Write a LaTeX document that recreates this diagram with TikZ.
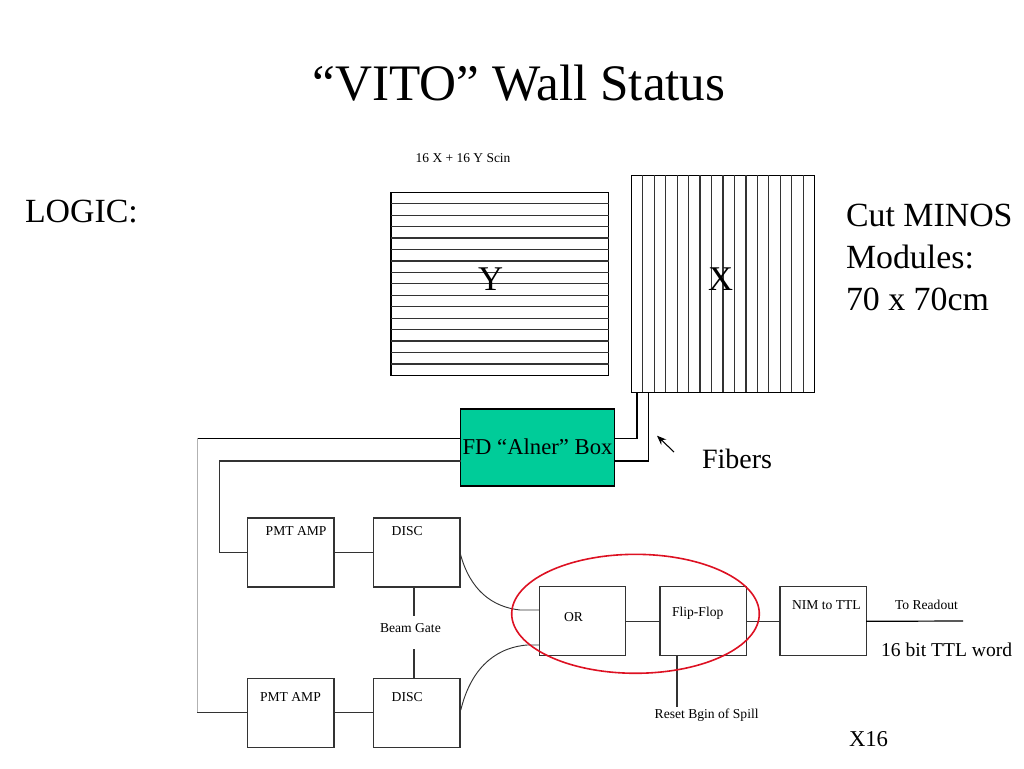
\documentclass[tikz,border=0pt]{standalone}
\usepackage{fontspec}
\setmainfont{Liberation Serif}
\usetikzlibrary{shapes.geometric,arrows.meta}
\definecolor{wire}{HTML}{333333}
\definecolor{alner}{HTML}{00CC99}
\definecolor{ring}{HTML}{DD1122}
\newcommand{\fs}[1]{\fontsize{#1}{#1}\selectfont}
\tikzset{
  wirepath/.style={draw=wire,line width=0.95pt},
  thinpath/.style={draw=wire,line width=0.7pt},
  modbox/.style={draw=wire,line width=0.95pt,minimum width=64.7pt,minimum height=51.8pt,inner sep=0pt,outer sep=0pt},
  txt/.style={anchor=base west,inner sep=0pt,outer sep=0pt,text=black},
  small/.style={txt,font=\fs{10.2}},
  slide/.style={txt,font=\fs{25.4}},
}
\begin{document}
\begin{tikzpicture}[x=0.75pt,y=-0.75pt]
\useasboundingbox (0,0) rectangle (1024,768);
% coordinates of corners and free ends
\coordinate (railA) at (197.3,438.3);
\coordinate (railB) at (219.3,461);
\coordinate (fibA) at (637,438.3);
\coordinate (fibB) at (648.5,461);
\coordinate (gateTop) at (414,616);
\coordinate (gateBot) at (414,649.3);
\coordinate (readoutEnd) at (963,621);
\coordinate (resetEnd) at (677,706.7);
\coordinate (arrowTail) at (674,452);
\coordinate (arrowHead) at (657,435.7);
% scintillator planes
\node[draw=black,line width=0.9pt,minimum width=163.3pt,minimum height=137.25pt,inner sep=0pt,outer sep=0pt] (ybox) at (499.85,283.8) {};
\foreach \i in {1,...,15}{\draw[draw=wire,line width=0.9pt] (391,192.3+11.44*\i) -- (608.7,192.3+11.44*\i);}
\node[draw=black,line width=0.9pt,minimum width=137.55pt,minimum height=162.75pt,inner sep=0pt,outer sep=0pt] (xbox) at (723,283.8) {};
\foreach \i in {1,...,15}{\draw[draw=wire,line width=0.9pt] (631.3+11.46*\i,175.3) -- (631.3+11.46*\i,392.3);}
% boxes
\node[draw=black,fill=alner,line width=0.9pt,minimum width=115.5pt,minimum height=57.75pt,inner sep=0pt,outer sep=0pt] (green) at (537.5,447.5) {};
\node[modbox] (pmtA) at (290.85,552.5) {};
\node[modbox] (discA) at (416.85,552.5) {};
\node[modbox] (pmtB) at (290.85,712.85) {};
\node[modbox] (discB) at (416.85,712.85) {};
\node[modbox] (orbox) at (582.7,621.3) {};
\node[modbox] (flip) at (703,621.3) {};
\node[modbox] (nim) at (823,621.3) {};
% connectors
\draw[draw=black,line width=0.9pt] (green.west |- railA) -- (railA);
\draw[draw=gray!60,line width=0.9pt] (railA) -- (railA |- pmtB.west);
\draw[wirepath] (railA |- pmtB.west) -- (pmtB.west);
\draw[wirepath] (green.west |- railB) -- (railB) |- (pmtA.west);
\draw[draw=black,line width=0.9pt] (green.east |- fibA) -- (fibA) -- (fibA |- xbox.south);
\draw[draw=black,line width=0.9pt] (green.east |- fibB) -- (fibB) -- (fibB |- xbox.south);
\draw[wirepath] (pmtA.east) -- (discA.west);
\draw[wirepath] (pmtB.east) -- (discB.west);
\draw[wirepath] (gateTop |- discA.south) -- (gateTop);
\draw[wirepath] (gateBot) -- (gateBot |- discB.north);
\draw[thinpath] (460.3,553.7) .. controls (470,590) and (492,607) .. (520,610) -- (orbox.west |- 520,610);
\draw[thinpath] (460.8,710) .. controls (470,672) and (492,648) .. (527,645) -- (orbox.west |- 527,645);
\draw[wirepath] (orbox.east) -- (flip.west);
\draw[wirepath] (flip.east) -- (nim.west);
\draw[draw=black,line width=0.9pt] (nim.east) -- (readoutEnd);
\draw[wirepath] (resetEnd |- flip.south) -- (resetEnd);
\draw[draw=black,line width=0.8pt,-{Stealth[length=7pt,width=5.5pt]}] (arrowTail) -- (arrowHead);
% red ellipse
\node[draw=ring,line width=1.2pt,ellipse,minimum width=185.7pt,minimum height=89.2pt,inner sep=0pt,outer sep=0pt] (ringe) at (635.5,613.8) {};
% text
\node[txt,font=\fs{38.4},anchor=base] (title) at (519,100) {“VITO” Wall Status};
\node[slide] (logic) at (25,222) {LOGIC:};
\node[slide] (cut1) at (846,226) {Cut MINOS};
\node[slide] (cut2) at (846,268) {Modules:};
\node[slide] (cut3) at (846,310) {70 x 70cm};
\node[slide,font=\fs{26},anchor=base] (ylab) at (490.7,290) {Y};
\node[slide,font=\fs{26},anchor=base] (xlab) at (720.7,290) {X};
\node[small,font=\fs{10.1}] (scin) at (415.7,162.7) {16 X + 16 Y Scin};
\node[txt,font=\fs{17},anchor=base] (alnerl) at (537.5,454) {FD “Alner” Box};
\node[txt,font=\fs{21}] (fibers) at (702,468) {Fibers};
\node[small] (pa) at (265.7,535) {PMT AMP};
\node[small] (da) at (391.7,535) {DISC};
\node[small] (pb) at (260,701) {PMT AMP};
\node[small] (db) at (391.7,701) {DISC};
\node[small] (beam) at (380,632) {Beam Gate};
\node[small] (orl) at (564,621) {OR};
\node[small] (ffl) at (672,616) {Flip-Flop};
\node[small] (niml) at (792,609) {NIM to TTL};
\node[small] (read) at (895,609) {To Readout};
\node[small,font=\fs{10.2}] (reset) at (654.7,718) {Reset Bgin of Spill};
\node[txt,font=\fs{14.7}] (word) at (881,656) {16 bit TTL word};
\node[txt,font=\fs{17}] (x16) at (849,746.7) {X16};
\end{tikzpicture}
\end{document}
